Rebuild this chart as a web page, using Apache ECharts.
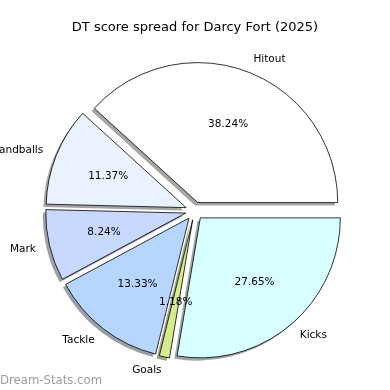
<!DOCTYPE html>
<html><head><meta charset="utf-8">
<script src="https://cdn.jsdelivr.net/npm/echarts@6/dist/echarts.min.js"></script>
<style>html,body{margin:0;padding:0;background:#fff}#c{width:390px;height:390px}</style>
</head><body><div id="c"></div>
<script>
const categories = ['Hitout', 'Handballs', 'Mark', 'Tackle', 'Goals', 'Kicks'];
const values = [38.24, 11.37, 8.24, 13.33, 1.18, 27.65];
const colors = ['#ffffff', '#eaf2ff', '#c8d8ff', '#b6d6ff', '#d4ec8c', '#d8ffff'];

const CX = 194.5, CY = 211, R = 140, OFF = 9, SH = 2.8;
const shade = c => {
  const v = parseInt(c.slice(1), 16);
  const r = (v >> 16) & 255, g = (v >> 8) & 255, b = v & 255;
  return 'rgba(' + Math.round(r * 0.3) + ',' + Math.round(g * 0.3) + ',' + Math.round(b * 0.3) + ',0.5)';
};
const chart = echarts.init(document.getElementById('c'), null, {renderer: 'canvas'});
const mk = (fill) => categories.map((n, i) => ({
  name: n, value: values[i], selected: true,
  itemStyle: {color: fill(i)}
}));
const base = {type: 'pie', startAngle: 0, clockwise: false, selectedMode: 'multiple',
  selectedOffset: OFF, silent: true, avoidLabelOverlap: false};
chart.setOption({
  animation: false,
  title: [{
    text: 'DT score spread for Darcy Fort (2025)', left: 190, top: 16, textAlign: 'center',
    textStyle: {fontFamily: 'DejaVu Sans', fontSize: 13, fontWeight: 'normal', color: '#000'}
  }, {
    text: 'Dream-Stats.com', left: 0, top: 375, padding: 0,
    textStyle: {fontFamily: 'DejaVu Sans', fontSize: 11.7, fontWeight: 'normal', color: '#9c9c9c'}
  }],
  series: [Object.assign({}, base, {
    center: [CX - SH, CY + SH], radius: [0, R], z: 1,
    itemStyle: {borderWidth: 0},
    select: {itemStyle: {borderWidth: 0}},
    label: {show: false}, labelLine: {show: false},
    data: mk(i => shade(colors[i]))
  }), Object.assign({}, base, {
    center: [CX, CY], radius: [0, R], z: 2,
    itemStyle: {borderColor: '#000', borderWidth: 0.8},
    select: {itemStyle: {borderColor: '#000', borderWidth: 0.8}},
    label: {position: 'outside', distanceToLabelLine: 0, fontFamily: 'DejaVu Sans', fontSize: 10.5, color: '#000', formatter: '{b}'},
    labelLine: {show: false, length: 14, length2: 0},
    data: mk(i => colors[i])
  }), Object.assign({}, base, {
    center: [CX, CY], radius: [0, (0.6 * R - 3) * 2], z: 5,
    itemStyle: {borderWidth: 0},
    select: {itemStyle: {borderWidth: 0}},
    label: {position: 'inside', fontFamily: 'DejaVu Sans', fontSize: 10.5, color: '#000',
      formatter: p => p.value.toFixed(2) + '%'},
    labelLine: {show: false},
    data: mk(i => 'rgba(0,0,0,0)')
  })]
});
</script></body></html>
